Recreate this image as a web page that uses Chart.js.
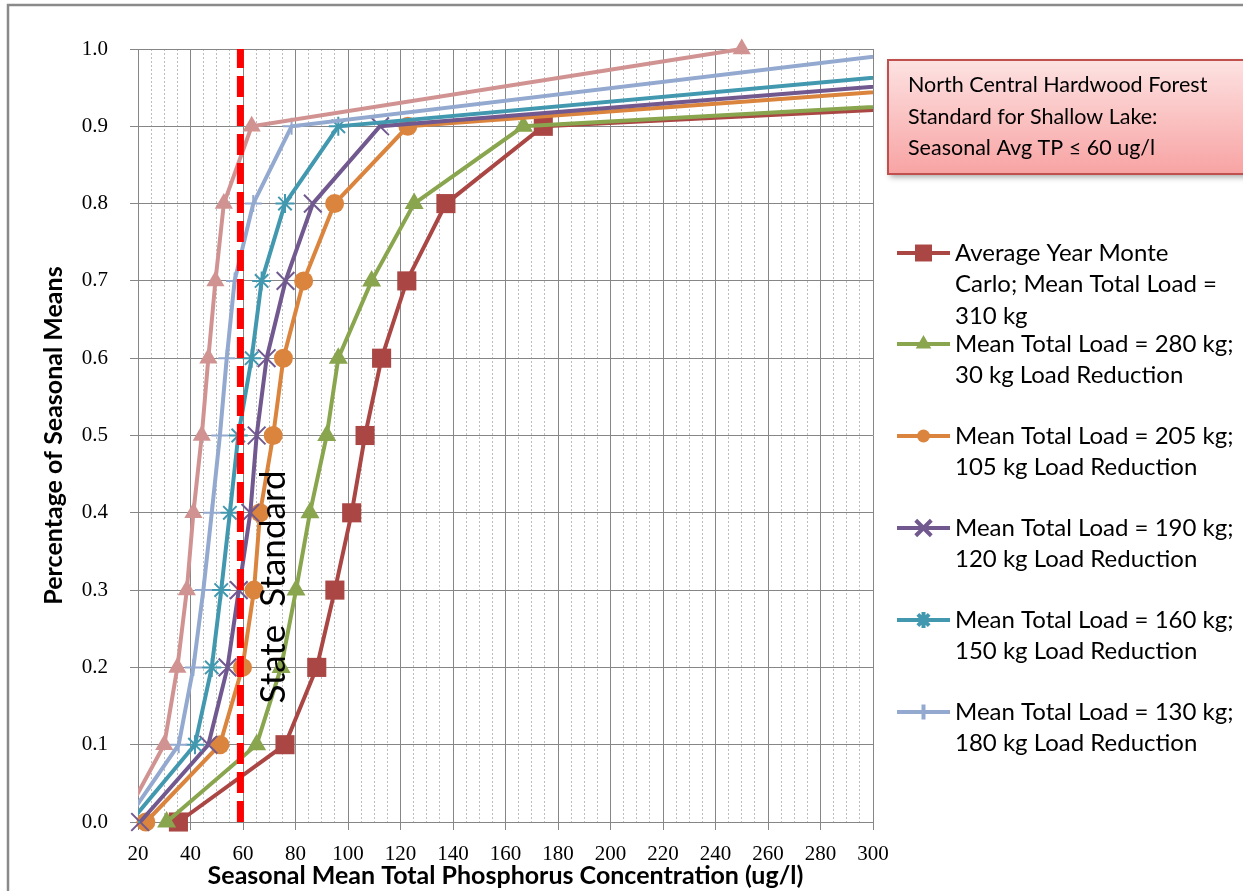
<!DOCTYPE html>
<html><head><meta charset="utf-8">
<script src="https://cdn.jsdelivr.net/npm/chart.js@4.4.0/dist/chart.umd.min.js"></script>
<style>html,body{margin:0;padding:0;background:#fff;overflow:hidden}#wrap{width:1243px;height:891px;position:relative}</style>
</head><body><div id="wrap"><canvas id="c" width="1243" height="891"></canvas></div>
<script>
// ---- data ----
const yLevels = [0, 0.1, 0.2, 0.3, 0.4, 0.5, 0.6, 0.7, 0.8, 0.9, 1.0];
const load310 = [35.4, 76, 88.1, 95, 101.4, 106.5, 112.8, 122.4, 137.3, 174.4, 773];
const load280 = [30.9, 65.2, 74.5, 80.2, 85.5, 91.9, 96.3, 109, 125.2, 166.8, 700];
const load205 = [23, 51.2, 59.8, 64.2, 66.5, 71.5, 75.4, 83.1, 94.9, 122.8, 526];
const load190 = [20.8, 46.8, 54.1, 58.4, 62.8, 65.2, 69, 76.2, 86.6, 112.2, 480];
const load160 = [17.1, 41.7, 48.1, 51.7, 55, 58.2, 63.3, 67.1, 76, 96.3, 420];
const load130 = [15.2, 35.5, 41.1, 44.9, 48.1, 51.2, 53.8, 56.8, 63.9, 78.5, 325];
const extraRun = [14, 30, 35, 38.6, 41.1, 44.3, 46.8, 49.5, 52.7, 63.3, 250];
const standardX = [59, 59];
const standardY = [0, 1];
const xTickValues = [20, 40, 60, 80, 100, 120, 140, 160, 180, 200, 220, 240, 260, 280, 300];
const yTickValues = [0, 0.1, 0.2, 0.3, 0.4, 0.5, 0.6, 0.7, 0.8, 0.9, 1.0];
const legendLabels = [
  ["Average Year Monte", "Carlo; Mean Total Load =", "310 kg"],
  ["Mean Total Load = 280 kg;", "30 kg Load Reduction"],
  ["Mean Total Load = 205 kg;", "105 kg Load Reduction"],
  ["Mean Total Load = 190 kg;", "120 kg Load Reduction"],
  ["Mean Total Load = 160 kg;", "150 kg Load Reduction"],
  ["Mean Total Load = 130 kg;", "180 kg Load Reduction"]
];
const noteLines = ["North Central Hardwood Forest", "Standard for Shallow Lake:", "Seasonal Avg TP \u2264 60 ug/l"];
const standardText = "State  Standard";
const xTitle = "Seasonal Mean Total Phosphorus Concentration (ug/l)";
const yTitle = "Percentage of Seasonal Means";

// ---- styling ----
const SANS = "Lato";
const GRID = "#868686";
const pts = xs => xs.map((x, i) => ({x: x, y: yLevels[i]}));
const clipL = {left: 0, right: 0, top: 14, bottom: 14};
const clipW = {left: 14, right: 0, top: 14, bottom: 14};

const seriesDefs = [
  {label: legendLabels[0], data: load310, color: "#AA4643", style: "rect", r: 13.5, bw: 0, order: 7, clip: clipW, lr: 12},
  {label: legendLabels[1], data: load280, color: "#89A54E", style: "triangle", r: 11, bw: 0, order: 6, clip: clipW, lr: 9},
  {label: legendLabels[2], data: load205, color: "#DB843D", style: "circle", r: 9.5, bw: 0, order: 5, clip: clipW, lr: 6.5},
  {label: legendLabels[3], data: load190, color: "#71588F", style: "crossRot", r: 12.5, bw: 2, order: 4, clip: clipW, lr: 11},
  {label: legendLabels[4], data: load160, color: "#4198AF", style: "star", r: 9.5, bw: 2, order: 3, clip: clipL, lr: 8},
  {label: legendLabels[5], data: load130, color: "#93A9CF", style: "cross", r: 8.5, bw: 2, order: 2, clip: clipL, lr: 7.5}
];

const datasets = seriesDefs.map(s => ({
  label: s.label.join(" "),
  data: pts(s.data),
  borderColor: s.color,
  backgroundColor: s.color,
  borderWidth: 4,
  pointStyle: s.style,
  pointRadius: s.r,
  pointBorderWidth: s.bw,
  pointBorderColor: s.color,
  pointBackgroundColor: s.color,
  tension: 0,
  order: s.order,
  clip: s.clip
}));
datasets.push({
  label: "unlabeled run",
  data: pts(extraRun),
  borderColor: "#D19392", backgroundColor: "#D19392", borderWidth: 4,
  pointStyle: "triangle", pointRadius: 10.5, pointBorderWidth: 0,
  pointBackgroundColor: "#D19392", tension: 0, order: 1, clip: clipL
});
datasets.push({
  label: "State Standard",
  data: standardX.map((x, i) => ({x: x, y: standardY[i]})),
  borderColor: "#FF0000", borderWidth: 7, borderDash: [21, 8],
  pointRadius: 0, order: 0, clip: {left: 0, right: 0, top: 0, bottom: 0}
});

function drawMarker(ctx, s, x, y) {
  ctx.save();
  ctx.fillStyle = s.color; ctx.strokeStyle = s.color;
  if (Chart.helpers && Chart.helpers.drawPoint) {
    Chart.helpers.drawPoint(ctx, {pointStyle: s.style, radius: s.lr, rotation: 0, borderWidth: s.bw ? 1.2 : 0}, x, y);
  }
  ctx.restore();
}

const decorPlugin = {
  id: "decor",
  beforeDraw(chart) {
    const ctx = chart.ctx;
    ctx.save();
    ctx.fillStyle = "#fff"; ctx.fillRect(0, 0, chart.width, chart.height);
    ctx.strokeStyle = "#8a8a8a"; ctx.lineWidth = 2.5;
    ctx.strokeRect(8, 5, 1400, 1000);
    ctx.restore();
  },
  afterDatasetsDraw(chart) {
    const ctx = chart.ctx;
    ctx.save();
    ctx.translate(285, 587);
    ctx.rotate(-Math.PI / 2);
    ctx.font = "35px " + SANS;
    ctx.fillStyle = "#000";
    ctx.textAlign = "center"; ctx.textBaseline = "alphabetic";
    ctx.fillText(standardText, 0, 0);
    ctx.restore();
  },
  afterDraw(chart) {
    const ctx = chart.ctx;
    ctx.save();
    const bx = 888, by = 60, bw = 400, bh = 114;
    ctx.shadowColor = "rgba(0,0,0,0.35)"; ctx.shadowBlur = 6; ctx.shadowOffsetX = 2; ctx.shadowOffsetY = 3;
    const g = ctx.createLinearGradient(0, by, 0, by + bh);
    g.addColorStop(0, "#FDE2E2"); g.addColorStop(1, "#F8A3A3");
    ctx.fillStyle = g; ctx.fillRect(bx, by, bw, bh);
    ctx.shadowColor = "transparent";
    ctx.strokeStyle = "#C0504D"; ctx.lineWidth = 2; ctx.strokeRect(bx, by, bw, bh);
    ctx.fillStyle = "#000"; ctx.font = "21.5px " + SANS; ctx.textBaseline = "middle"; ctx.textAlign = "left";
    noteLines.forEach((t, i) => ctx.fillText(t, 908, 85 + i * 31.7));
    ctx.restore();
    ctx.save();
    const starts = [253, 344, 436, 528, 620, 712];
    seriesDefs.forEach((s, i) => {
      const y = starts[i];
      ctx.strokeStyle = s.color; ctx.lineWidth = 4; ctx.lineCap = "butt";
      ctx.beginPath(); ctx.moveTo(897, y); ctx.lineTo(950, y); ctx.stroke();
      drawMarker(ctx, s, 923.5, y);
      ctx.fillStyle = "#000"; ctx.font = "24px " + SANS; ctx.textBaseline = "middle"; ctx.textAlign = "left";
      s.label.forEach((t, k) => ctx.fillText(t, 955, y + k * 31.5));
    });
    ctx.restore();
  }
};

const chart = new Chart(document.getElementById("c"), {
  type: "line",
  data: {datasets: datasets},
  plugins: [decorPlugin],
  options: {
    responsive: false, animation: false, devicePixelRatio: 1,
    layout: {padding: {left: 0, top: 49, right: 370, bottom: 0}},
    plugins: {legend: {display: false}, tooltip: {enabled: false}},
    scales: {
      x: {
        type: "linear", min: 20, max: 300, position: "bottom",
        afterBuildTicks: s => { s.ticks = xTickValues.map(v => ({value: v})); },
        afterFit: s => { s.height = 69; },
        grid: {color: GRID, lineWidth: 1, tickLength: 8, drawTicks: true},
        border: {color: GRID, width: 1},
        ticks: {font: {family: "Liberation Serif", size: 21}, color: "#000", padding: 12, maxRotation: 0, autoSkip: false, callback: v => String(v)},
        title: {display: true, text: xTitle, color: "#000", font: {family: SANS, size: 25, weight: "bold"}, padding: {top: 0, bottom: 0}}
      },
      xMinor: {
        type: "linear", min: 20, max: 300, position: "bottom",
        afterFit: s => { s.height = 0; },
        ticks: {display: false, stepSize: 5},
        grid: {drawTicks: false, lineWidth: 1, color: c => (c.tick && c.tick.value % 20 === 0) ? "rgba(0,0,0,0)" : "#BDBDBD"},
        border: {display: false, dash: [2, 2]}
      },
      y: {
        type: "linear", min: 0, max: 1, position: "left",
        afterBuildTicks: s => { s.ticks = yTickValues.map(v => ({value: v})); },
        afterFit: s => { s.width = 138; },
        grid: {color: GRID, lineWidth: 1, tickLength: 8, drawTicks: true},
        border: {color: GRID, width: 1},
        ticks: {font: {family: "Liberation Serif", size: 21}, color: "#000", padding: 22, callback: v => Number(v).toFixed(1)},
        title: {display: true, text: yTitle, color: "#000", font: {family: SANS, size: 25, weight: "bold"}, padding: {top: 39, bottom: 0}}
      }
    }
  }
});
</script></body></html>
